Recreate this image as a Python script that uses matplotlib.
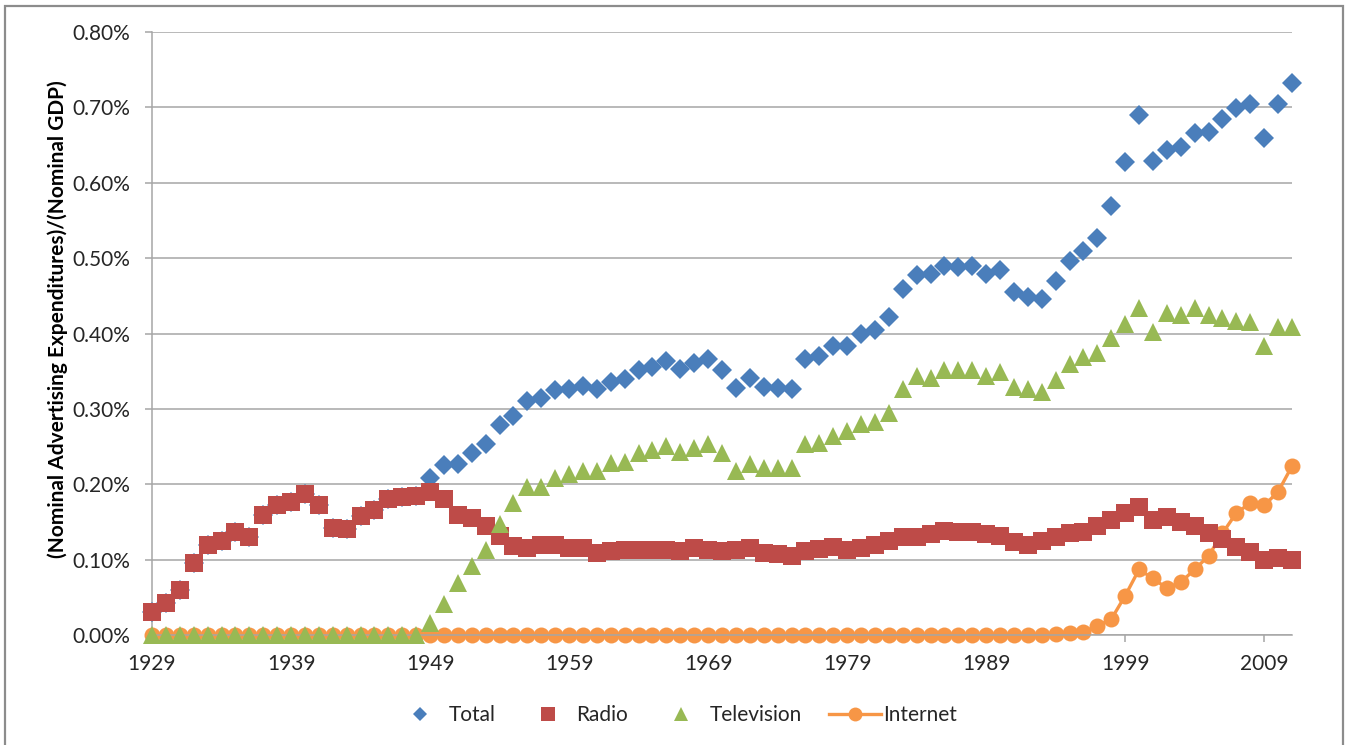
import matplotlib
matplotlib.use("Agg")
import matplotlib.pyplot as plt
from matplotlib.lines import Line2D
from matplotlib.patches import Rectangle
from matplotlib.ticker import FuncFormatter

plt.rcParams['font.family'] = ['Lato', 'DejaVu Sans']

years = list(range(1929, 2012))

# share of GDP, in percent
radio = [
    0.031, 0.043, 0.060, 0.096, 0.120, 0.125, 0.136, 0.130, 0.159, 0.173,  # 1929-1938
    0.177, 0.187, 0.173, 0.142, 0.140, 0.158, 0.166, 0.180, 0.183, 0.184,  # 1939-1948
    0.190, 0.181, 0.159, 0.155, 0.144, 0.131, 0.118, 0.115, 0.120, 0.119,  # 1949-1958
    0.116, 0.116, 0.109, 0.111, 0.113, 0.113, 0.113, 0.113, 0.111, 0.115,  # 1959-1968
    0.113, 0.111, 0.113, 0.115, 0.109, 0.107, 0.105, 0.112, 0.114, 0.117,  # 1969-1978
    0.113, 0.116, 0.119, 0.125, 0.130, 0.130, 0.134, 0.138, 0.136, 0.136,  # 1979-1988
    0.134, 0.132, 0.123, 0.119, 0.125, 0.130, 0.135, 0.137, 0.145, 0.152,  # 1989-1998
    0.162, 0.170, 0.152, 0.157, 0.150, 0.145, 0.135, 0.127, 0.117, 0.110,  # 1999-2008
    0.100, 0.102, 0.100,                                                   # 2009-2011
]

total = [
    0.031, 0.043, 0.060, 0.096, 0.120, 0.125, 0.136, 0.130, 0.159, 0.173,
    0.177, 0.187, 0.173, 0.142, 0.140, 0.158, 0.166, 0.180, 0.183, 0.184,
    0.208, 0.226, 0.227, 0.242, 0.254, 0.279, 0.291, 0.311, 0.314, 0.325,
    0.326, 0.330, 0.327, 0.336, 0.340, 0.352, 0.355, 0.363, 0.353, 0.361,
    0.366, 0.351, 0.328, 0.341, 0.329, 0.328, 0.327, 0.366, 0.370, 0.383,
    0.384, 0.400, 0.404, 0.422, 0.459, 0.477, 0.479, 0.490, 0.488, 0.490,
    0.479, 0.484, 0.455, 0.448, 0.446, 0.470, 0.496, 0.509, 0.527, 0.569,
    0.627, 0.690, 0.629, 0.644, 0.647, 0.666, 0.667, 0.684, 0.699, 0.704,
    0.659, 0.704, 0.733,
]

television = [0.0] * 20 + [
    0.016, 0.041, 0.069, 0.091, 0.113, 0.147, 0.175, 0.197, 0.196, 0.208,
    0.213, 0.218, 0.217, 0.228, 0.230, 0.241, 0.245, 0.251, 0.243, 0.248,
    0.253, 0.241, 0.217, 0.227, 0.221, 0.222, 0.221, 0.254, 0.255, 0.264,
    0.270, 0.280, 0.282, 0.294, 0.327, 0.344, 0.341, 0.351, 0.352, 0.352,
    0.344, 0.349, 0.329, 0.327, 0.322, 0.338, 0.360, 0.369, 0.374, 0.394,
    0.412, 0.434, 0.402, 0.427, 0.425, 0.434, 0.425, 0.420, 0.417, 0.415,
    0.384, 0.408, 0.408,
]

internet = [0.0] * 65 + [
    0.001, 0.002, 0.004, 0.012, 0.021, 0.052, 0.087, 0.075, 0.062, 0.070,
    0.087, 0.105, 0.135, 0.162, 0.175, 0.172, 0.190, 0.224,
]

x_ticks = list(range(1929, 2010, 10))
y_ticks = [0.0, 0.1, 0.2, 0.3, 0.4, 0.5, 0.6, 0.7, 0.8]

blue = "#4A7EBB"
red = "#BE4B48"
green = "#98B954"
orange = "#F79646"
gray = "#A6A6A6"

fig = plt.figure(figsize=(13.51, 7.45), dpi=100)
ax = fig.add_axes([152 / 1351, 1 - 635 / 745, (1292 - 152) / 1351, (635 - 32) / 745])

ax.plot(years, internet, color=orange, lw=2.4, marker="o", ms=11.5,
        mew=0, zorder=2, clip_on=False)
ax.plot(years, total, ls="none", marker="D", ms=10, color=blue,
        mew=0, zorder=3, clip_on=False)
ax.plot(years, radio, ls="none", marker="s", ms=12.5, color=red,
        mew=0, zorder=4, clip_on=False)
ax.plot(years, television, ls="none", marker="^", ms=13, color=green,
        mew=0, zorder=5, clip_on=False)

ax.set_xlim(1929, 2011)
ax.set_ylim(0, 0.8)
ax.set_xticks(x_ticks)
ax.set_yticks(y_ticks)
ax.yaxis.set_major_formatter(FuncFormatter(lambda v, p: f"{v:.2f}%"))
ax.grid(axis="y", color=gray, lw=1.1, zorder=0)
ax.set_axisbelow(True)

for s in ["top", "right"]:
    ax.spines[s].set_visible(False)
for s in ["left", "bottom"]:
    ax.spines[s].set_color(gray)
    ax.spines[s].set_linewidth(1.1)
ax.tick_params(axis="both", colors=gray, length=5, width=1.1,
               labelcolor="#262626", labelsize=15)
ax.tick_params(axis="y", pad=11)
ax.tick_params(axis="x", pad=9)

fig.text(0.043, 0.572, "(Nominal Advertising Expenditures)/(Nominal GDP)",
         rotation=90, ha="center", va="center", fontsize=15,
         fontweight="bold", color="#000000")

handles = [
    Line2D([], [], ls="none", marker="D", ms=7.5, color=blue, mew=0),
    Line2D([], [], ls="none", marker="s", ms=9.5, color=red, mew=0),
    Line2D([], [], ls="none", marker="^", ms=10.5, color=green, mew=0),
    Line2D([], [], color=orange, lw=2.4, marker="o", ms=10, mew=0),
]
fig.legend(handles, ["Total", "Radio", "Television", "Internet"],
           loc="center", bbox_to_anchor=(0.5, 0.04), ncol=4,
           frameon=False, fontsize=15, handlelength=2.5,
           handletextpad=0.1, columnspacing=1.3, labelcolor="#262626")

# outer chart border
fig.patches.append(Rectangle((5 / 1351, -0.01), 1338 / 1351, 1.0 - 6 / 745 + 0.01,
                             transform=fig.transFigure, fill=False,
                             edgecolor="#8C8C8C", lw=1.6))

fig.savefig("out.png", dpi=100)
